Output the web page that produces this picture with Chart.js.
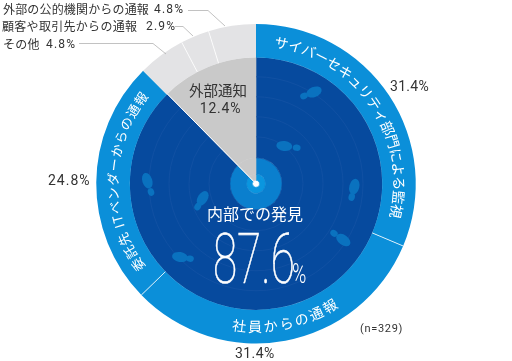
<!DOCTYPE html>
<html>

<head>
    <meta charset="utf-8">
    <title>内部での発見</title>
    <script src="https://cdn.jsdelivr.net/npm/chart.js@4"></script>
    <style>
        html, body { margin: 0; padding: 0; background: #fff; }
        canvas { display: block; }
    </style>
</head>

<body>
    <canvas id="myChart" width="512" height="361"></canvas>
    <script>
    // outer ring
    const detailLabels = ['サイバーセキュリティ部門による監視', '社員からの通報', '委託先 ITベンダーからの通報', 'その他', '顧客や取引先からの通報', '外部の公的機関からの通報'];
    const detailValues = [31.4, 31.4, 24.8, 4.8, 2.9, 4.8];
    // inner ring
    const groupLabels = ['内部での発見', '外部通知'];
    const groupValues = [87.6, 12.4];

    const FONT = '"Noto Sans CJK JP", "Noto Sans", sans-serif';
    const NUM_FONT = 'Roboto, "Noto Sans", sans-serif';
    const BLUE = '#0b8fd9', DARK = '#064a9e', GREY = '#c9c9c9', LIGHT = '#e3e3e5';
    const MID = '#0a7fce', CORE = '#0a96df';

    function pct(v) { return v.toFixed(1) + '%'; }

    // writes a string along the ring, one character at a time
    function arcText(ctx, cx, cy, r, text, fromDeg, toDeg, size, flip) {
        ctx.save();
        ctx.font = size + 'px ' + FONT;
        ctx.fillStyle = '#fff';
        ctx.textAlign = 'center';
        ctx.textBaseline = 'middle';
        const widths = [...text].map(c => ctx.measureText(c).width);
        const total = widths.reduce((a, b) => a + b, 0);
        const span = Math.abs(toDeg - fromDeg) * Math.PI / 180 * r;
        const gap = (span - total) / Math.max(widths.length - 1, 1);
        let pos = 0;
        [...text].forEach((c, i) => {
            const mid = pos + widths[i] / 2;
            const deg = fromDeg + (toDeg - fromDeg) * mid / span;
            const a = (deg - 90) * Math.PI / 180;
            ctx.save();
            ctx.translate(cx + r * Math.cos(a), cy + r * Math.sin(a));
            ctx.rotate(flip ? a - Math.PI / 2 : a + Math.PI / 2);
            ctx.fillText(c, 0, 0);
            ctx.restore();
            pos += widths[i] + gap;
        });
        ctx.restore();
    }

    function label(ctx, text, x, y, size, color, font, spacing, align) {
        ctx.font = size + 'px ' + font;
        ctx.fillStyle = color;
        ctx.textAlign = align || 'left';
        ctx.textBaseline = 'middle';
        ctx.letterSpacing = (spacing || 0) + 'px';
        ctx.fillText(text, x, y);
        ctx.letterSpacing = '0px';
    }

    function foot(ctx, x1, y1, x2, y2) {
        // big part of the footprint, then the small heel
        const a = Math.atan2(y2 - y1, x2 - x1);
        ctx.beginPath();
        ctx.ellipse(x1, y1, 8, 5, a, 0, Math.PI * 2);
        ctx.fill();
        ctx.beginPath();
        ctx.ellipse(x2, y2, 3.9, 3.2, a, 0, Math.PI * 2);
        ctx.fill();
    }

    const decoration = {
        id: 'decoration',
        afterDatasetsDraw(chart) {
            const ctx = chart.ctx;
            const outer = chart.getDatasetMeta(0).data;
            const inner = chart.getDatasetMeta(1).data;
            const cx = outer[0].x, cy = outer[0].y;

            ctx.save();
            // faint circles, only on the dark part
            const dark = inner[0];
            ctx.strokeStyle = '#1553a5';
            ctx.lineWidth = 0.7;
            [47, 67, 87, 107].forEach(r => {
                ctx.beginPath();
                ctx.arc(cx, cy, r, dark.startAngle, dark.endAngle);
                ctx.stroke();
            });

            ctx.fillStyle = '#0a72bf';
            foot(ctx, 314, 92, 304, 96);
            foot(ctx, 284.3, 146, 296.7, 147.7);
            foot(ctx, 354.3, 186.7, 351.7, 197);
            foot(ctx, 343.3, 240, 334, 233.3);
            foot(ctx, 180, 257, 190, 258.7);
            foot(ctx, 202.7, 198.3, 197.7, 206.7);
            foot(ctx, 147.3, 180.7, 151, 192);

            // separators
            ctx.strokeStyle = '#fff';
            ctx.lineWidth = 0.8;
            [outer[1], outer[2], outer[4], outer[5]].forEach(arc => {
                ctx.beginPath();
                ctx.moveTo(cx + arc.innerRadius * Math.cos(arc.startAngle), cy + arc.innerRadius * Math.sin(arc.startAngle));
                ctx.lineTo(cx + arc.outerRadius * Math.cos(arc.startAngle), cy + arc.outerRadius * Math.sin(arc.startAngle));
                ctx.stroke();
            });
            ctx.lineWidth = 1;
            ctx.beginPath();
            ctx.moveTo(cx, cy);
            ctx.lineTo(cx + inner[1].outerRadius * Math.cos(inner[1].startAngle), cy + inner[1].outerRadius * Math.sin(inner[1].startAngle));
            ctx.stroke();

            // leader lines
            ctx.strokeStyle = '#a8a8a8';
            ctx.lineWidth = 0.7;
            [[79, 43.5, 153, 43.5, 166, 54], [175, 26.5, 183, 26.5, 193, 36], [188, 10.5, 208, 10.5, 225, 26]].forEach(p => {
                ctx.beginPath();
                ctx.moveTo(p[0], p[1]);
                ctx.lineTo(p[2], p[3]);
                ctx.lineTo(p[4], p[5]);
                ctx.stroke();
            });

            // ring texts
            arcText(ctx, cx, cy, 143, detailLabels[0], 7.5, 104, 14);
            arcText(ctx, cx, cy, 143, detailLabels[1], 189.5, 146, 14, true);
            arcText(ctx, cx, cy, 143, detailLabels[2], 233, 309, 13);

            // outside labels
            const TXT = '#333';
            label(ctx, detailLabels[5], 3, 9, 12, TXT, FONT, 0.17);
            label(ctx, pct(detailValues[5]), 154, 9.5, 12, TXT, NUM_FONT, 1.2);
            label(ctx, detailLabels[4], 2, 26, 12, TXT, FONT, 0.3);
            label(ctx, pct(detailValues[4]), 146, 26.5, 12, TXT, NUM_FONT, 1.2);
            label(ctx, detailLabels[3], 3, 44, 12, TXT, FONT, 0.3);
            label(ctx, pct(detailValues[3]), 46, 44.5, 12, TXT, NUM_FONT, 1.2);
            label(ctx, pct(detailValues[0]), 390, 87, 14, TXT, NUM_FONT, 0.3);
            label(ctx, pct(detailValues[1]), 235, 354, 14, TXT, NUM_FONT, 0.4);
            label(ctx, pct(detailValues[2]), 48, 181, 14, TXT, NUM_FONT, 1);
            label(ctx, '(n=329)', 360, 329, 11, TXT, NUM_FONT, 0.7);

            // centre texts
            label(ctx, groupLabels[1], 218, 90, 14.5, TXT, FONT, 0, 'center');
            label(ctx, pct(groupValues[1]), 220.5, 109, 14, TXT, NUM_FONT, 0.8, 'center');
            label(ctx, groupLabels[0], 255, 214, 16, '#fff', FONT, 0, 'center');

            // big number, squeezed
            ctx.save();
            ctx.translate(213, 0);
            ctx.scale(0.62, 1);
            ctx.font = '100 71px ' + NUM_FONT;
            ctx.fillStyle = '#fff';
            ctx.strokeStyle = '#fff';
            ctx.lineWidth = 0.6;
            ctx.textAlign = 'left';
            ctx.textBaseline = 'alphabetic';
            ctx.fillText(groupValues[0].toFixed(1), 0, 283);
            ctx.strokeText(groupValues[0].toFixed(1), 0, 283);
            ctx.restore();
            ctx.save();
            ctx.translate(292, 0);
            ctx.scale(0.72, 1);
            ctx.font = '300 27px ' + NUM_FONT;
            ctx.fillStyle = '#fff';
            ctx.textAlign = 'left';
            ctx.textBaseline = 'alphabetic';
            ctx.fillText('%', 0, 283);
            ctx.restore();
            ctx.restore();
        }
    };

    const ctx = document.getElementById('myChart').getContext('2d');
    new Chart(ctx, {
        type: 'doughnut',
        data: {
            labels: detailLabels,
            datasets: [
                {
                    data: detailValues,
                    weight: 33.5,
                    backgroundColor: [BLUE, BLUE, BLUE, LIGHT, LIGHT, LIGHT],
                    borderWidth: 0
                },
                {
                    data: groupValues,
                    weight: 100,
                    backgroundColor: [DARK, GREY],
                    borderColor: [DARK, GREY],
                    borderWidth: 0.6
                },
                {
                    data: groupValues,
                    weight: 16.5,
                    backgroundColor: [MID, GREY],
                    borderColor: [MID, GREY],
                    borderWidth: 0.6
                },
                {
                    data: groupValues,
                    weight: 6,
                    backgroundColor: [CORE, GREY],
                    borderColor: [CORE, GREY],
                    borderWidth: 0.6
                },
                {
                    data: [100],
                    weight: 3.5,
                    backgroundColor: ['#fff'],
                    borderWidth: 0
                }
            ]
        },
        options: {
            responsive: false,
            animation: false,
            cutout: 0,
            layout: { padding: { top: 24, bottom: 17.5, left: 0, right: 0 } },
            plugins: { legend: { display: false }, tooltip: { enabled: false } }
        },
        plugins: [decoration]
    });
    </script>
</body>

</html>
